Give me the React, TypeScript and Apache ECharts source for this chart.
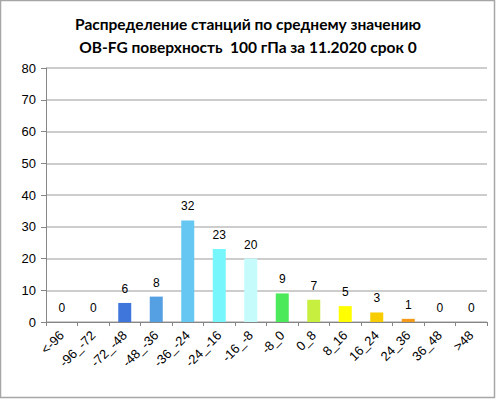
import React, { useEffect, useRef } from "react";
import * as echarts from "echarts";

const categories = ["<-96", "-96_-72", "-72_-48", "-48_-36", "-36_-24", "-24_-16", "-16_-8", "-8_0", "0_8", "8_16", "16_24", "24_36", "36_48", ">48"];
const counts = [0, 0, 6, 8, 32, 23, 20, 9, 7, 5, 3, 1, 0, 0];
const barColors = ["#3f76dc", "#3f76dc", "#3f76dc", "#559fe3", "#66c8f2", "#77f6fb", "#c5fbfb", "#4ce95a", "#c6ef3f", "#ffff00", "#f7cd00", "#f49a1a", "#f49a1a", "#f49a1a"];
const titleLines = ["Распределение станций по среднему значению", "OB-FG поверхность  100 гПа за 11.2020 срок 0"];

export default function App() {
  const ref = useRef<HTMLDivElement>(null);
  useEffect(() => {
    if (!ref.current) return;
    const chart = echarts.init(ref.current, null, { renderer: "svg" });
    chart.setOption({
      animation: false,
      backgroundColor: "#ffffff",
      title: {
        text: titleLines.join("\n"),
        left: "center",
        top: 7,
        textStyle: { fontFamily: "Lato", fontWeight: "bold", fontSize: 15.5, lineHeight: 23, color: "#000" },
      },
      grid: { left: 46, right: 9, top: 68, bottom: 77 },
      xAxis: {
        type: "category",
        data: categories,
        axisLine: { lineStyle: { color: "#868686", width: 1 } },
        axisTick: { show: true, alignWithLabel: false, length: 4, lineStyle: { color: "#868686" } },
        axisLabel: { rotate: 45, interval: 0, fontFamily: "Liberation Sans", fontSize: 13, color: "#000", margin: 11 },
      },
      yAxis: {
        type: "value",
        min: 0,
        max: 80,
        interval: 10,
        axisLine: { show: true, lineStyle: { color: "#868686" } },
        axisTick: { show: true, length: 5, lineStyle: { color: "#868686" } },
        axisLabel: { fontFamily: "Liberation Sans", fontSize: 13, color: "#000", margin: 10 },
        splitLine: { lineStyle: { color: "#bdbdbd", width: 1.5 } },
      },
      series: [
        {
          type: "bar",
          data: counts.map((v, i) => ({ value: v, itemStyle: { color: barColors[i] } })),
          barWidth: 13,
          label: { show: true, position: "top", distance: 8, fontFamily: "Liberation Sans", fontSize: 12, color: "#000" },
        },
      ],
      graphic: [
        {
          type: "rect",
          shape: { x: 0.5, y: 0.5, width: 494, height: 397 },
          style: { fill: "none", stroke: "#a6a6a6", lineWidth: 1.5 },
          silent: true,
        },
      ],
    });
    return () => chart.dispose();
  }, []);
  return <div ref={ref} style={{ position: "fixed", left: 0, top: 0, width: 496, height: 399 }} />;
}
